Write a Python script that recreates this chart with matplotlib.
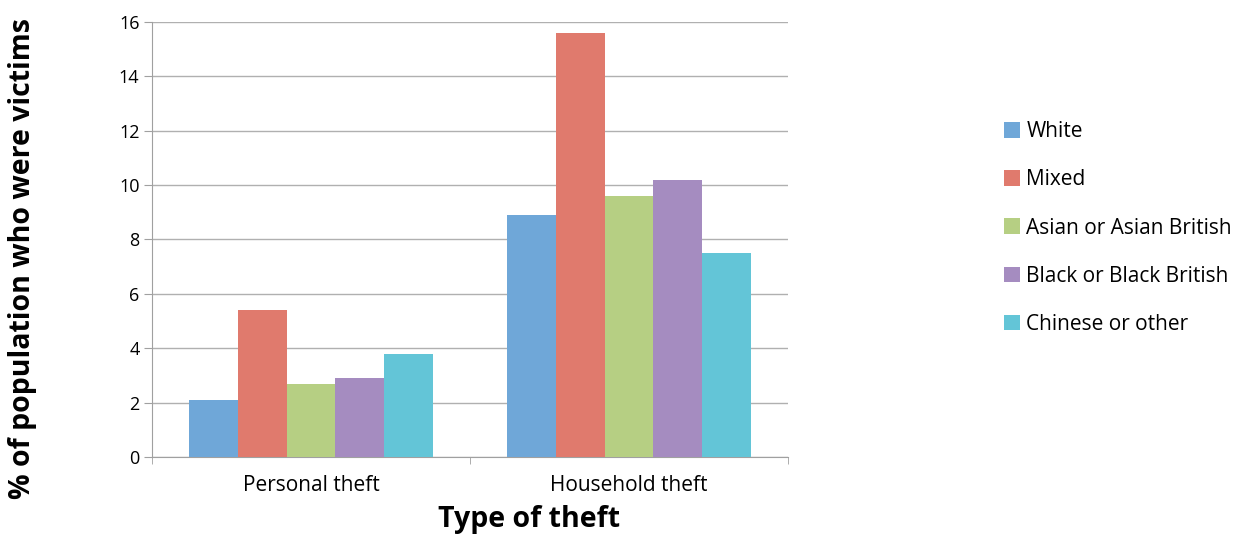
import numpy as np
import matplotlib
matplotlib.use('Agg')
import matplotlib.pyplot as plt

plt.rcParams['font.family'] = ['Open Sans', 'DejaVu Sans']

categories = ["Personal theft", "Household theft"]
groups = ["White", "Mixed", "Asian or Asian British", "Black or Black British", "Chinese or other"]
values = {
    "White": [2.1, 8.9],
    "Mixed": [5.4, 15.6],
    "Asian or Asian British": [2.7, 9.6],
    "Black or Black British": [2.9, 10.2],
    "Chinese or other": [3.8, 7.5],
}
COLORS = ['#6fa7d8', '#e07a6d', '#b6cf83', '#a58cc0', '#63c5d7']
yticks = [0, 2, 4, 6, 8, 10, 12, 14, 16]

fig = plt.figure(figsize=(12.43, 5.4), dpi=100)
ax = fig.add_axes([0.1223, 0.1537, 0.5117, 0.8056])

x = np.arange(len(categories))
width = 0.153
for i, g in enumerate(groups):
    ax.bar(x + (i - 2) * width, values[g], width, color=COLORS[i], label=g, zorder=3)

ax.set_xlim(-0.5, 1.5)
ax.set_ylim(0, 16)
ax.set_yticks(yticks)
ax.set_yticklabels([str(t) for t in yticks], fontsize=13)
ax.set_xticks(x)
ax.set_xticklabels(categories, fontsize=15)
ax.set_xticks([-0.5, 0.5, 1.5], minor=True)
ax.tick_params(axis='x', which='major', length=0, pad=13)
ax.tick_params(axis='x', which='minor', length=5, color='#a0a0a0')
ax.tick_params(axis='y', length=6, color='#a0a0a0', pad=3)
ax.grid(axis='y', color='#b0b0b0', linewidth=1, zorder=0)
for s in ['top', 'right']:
    ax.spines[s].set_visible(False)
for s in ['left', 'bottom']:
    ax.spines[s].set_color('#a0a0a0')

fig.text(529 / 1243, 1 - 527 / 540, "Type of theft", fontsize=20.5,
         fontweight='bold', ha='center', va='baseline')
fig.text(0.0185, 0.522, "% of population who were victims", rotation=90,
         fontsize=20.5, fontweight='bold', ha='center', va='center')

fig.legend(loc='center left', bbox_to_anchor=(1004 / 1243, 1 - 228 / 540),
           frameon=False, fontsize=15, handlelength=0.77, handleheight=0.77,
           handletextpad=0.3, labelspacing=1.3, borderpad=0, borderaxespad=0)

plt.savefig('out.png', dpi=100)
